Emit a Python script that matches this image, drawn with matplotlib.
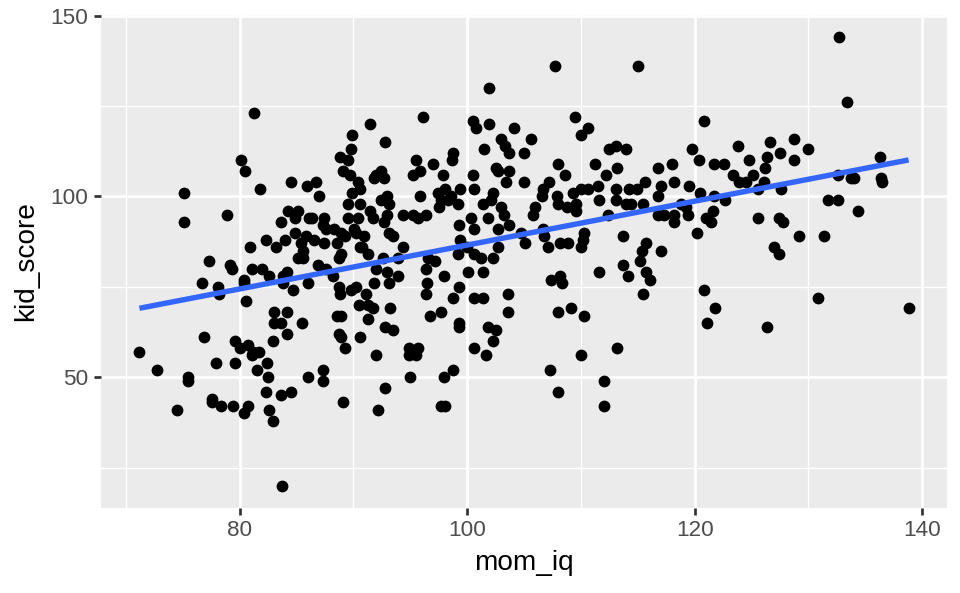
import numpy as np
import matplotlib
matplotlib.use("Agg")
import matplotlib.pyplot as plt


# Dados (mom_iq, kid_score)

mom_iq = [
    71.2, 72.7, 74.5, 75.1, 75.1, 75.5, 75.5, 76.7, 76.9, 77.3, 77.6, 77.6, 77.9, 78.1, 78.2, 78.4,
    78.9, 79.2, 79.3, 79.4, 79.6, 79.6, 80.1, 80.5, 80.4, 80.4, 80.4, 80.7, 80.0, 80.7, 81.2, 81.7,
    81.1, 80.6, 80.9, 81.1, 81.5, 81.3, 81.8, 82.0, 82.3, 82.6, 82.4, 82.5, 82.3, 82.6, 82.9, 82.9,
    83.0, 83.2, 83.0, 83.6, 83.6, 83.6, 83.7, 83.8, 83.8, 84.0, 84.2, 84.2, 84.2, 84.3, 84.5, 84.5,
    84.7, 84.9, 84.9, 85.1, 85.4, 85.6, 85.1, 85.6, 85.5, 85.9, 86.0, 86.0, 86.1,
    96.1, 91.5, 89.9, 92.8, 89.8, 88.8, 89.5, 89.1, 89.7, 86.7, 87.0, 90.4, 90.6, 89.9, 92.0, 92.4,
    92.7, 91.8, 92.4, 93.0, 93.1, 89.5, 90.6, 91.5, 91.7, 93.0, 86.4, 87.4, 87.3, 87.6, 88.3, 88.9,
    89.5, 90.4, 90.1, 89.3, 90.2, 90.9, 90.6, 85.8, 86.5, 87.4, 88.6, 88.9, 88.7, 91.3, 90.8, 92.7,
    93.1, 93.5, 94.4, 95.2, 95.7, 96.4, 94.4, 92.6, 93.9, 92.0, 93.0, 93.9, 86.9, 87.6, 96.4, 97.2,
    96.6, 98.0, 100.1, 101.4, 95.5, 95.2, 95.9, 97.0, 97.9, 95.9, 97.4, 98.1, 97.7, 98.3, 97.5, 98.6,
    99.2, 99.4, 98.8, 98.7, 100.5, 100.8, 101.9, 101.5, 103.0, 103.3, 100.5, 102.5, 102.7, 103.4, 103.7, 100.6,
    102.3, 101.4, 102.1, 103.0, 101.8, 103.2, 102.7, 103.7, 99.3, 100.3, 100.6, 99.4, 100.0, 99.2, 100.6, 101.2,
    102.3, 102.7, 101.9,
    88.2, 88.7, 88.8, 89.8, 90.2, 91.1, 91.8, 93.1, 90.5, 91.3, 91.7, 93.2, 91.3, 88.6, 88.9, 88.7,
    88.9, 89.3, 90.6, 92.8, 93.5, 92.0, 94.9, 95.7, 94.9, 95.5, 87.3, 87.3, 95.0, 92.8, 89.1, 92.2,
    97.7, 98.1, 98.0, 98.8, 96.5, 96.4, 99.3, 98.8, 96.7, 97.7, 99.3, 99.3, 100.6, 101.4, 101.8, 102.5,
    102.3, 100.6, 101.7, 103.6, 103.6,
    107.7, 115.0, 109.5, 110.6, 110.0, 120.8, 104.1, 105.6, 103.7, 105.0, 108.0, 108.6, 105.0, 112.5, 113.1, 114.0,
    111.2, 113.2, 112.2, 107.2, 106.7, 106.6, 105.8, 106.0, 107.9, 108.0, 109.3, 110.0, 110.6, 111.5, 111.6, 108.8,
    109.6, 109.6, 113.1, 113.1, 114.2, 114.9, 115.6, 114.0, 114.4, 115.5, 116.8, 118.0, 118.2, 117.0, 116.8, 119.5,
    119.8, 120.4, 121.7, 120.5, 121.7, 121.6, 121.0, 118.8, 119.2, 117.3, 116.8, 118.2, 119.4,
    104.7, 105.1, 106.7, 106.8, 107.1, 108.2, 108.9, 110.3, 110.2, 110.0, 112.4, 113.7, 115.7, 115.4, 117.0, 115.2,
    115.7, 116.1, 113.7, 114.1, 111.6, 107.4, 108.2, 108.3, 108.0, 109.1, 110.3, 115.5, 118.2, 120.2, 120.8, 121.8,
    121.1, 113.2, 110.0, 107.3, 108.0, 112.0, 112.0,
    132.7, 133.4, 123.8, 126.6, 128.7, 127.5, 130.0, 124.8, 126.4, 126.2, 128.7, 122.6, 123.4, 125.1, 123.9, 124.5,
    126.1, 125.6, 127.6, 122.7, 132.6, 133.7, 134.0, 136.3, 136.4, 136.5, 131.7, 132.6,
    121.4, 125.6, 127.4, 127.8, 134.4, 129.2, 131.4, 127.0, 127.4, 130.8, 138.8, 126.4,
]

kid_score = [
    57, 52, 41, 101, 93, 50, 49, 76, 61, 82, 44, 43, 54, 75, 73, 42,
    95, 81, 80, 42, 60, 54, 110, 107, 77, 76, 40, 42, 58, 59, 57, 57,
    56, 71, 86, 80, 52, 123, 102, 80, 88, 78, 54, 50, 46, 41, 38, 60,
    68, 86, 65, 65, 45, 93, 20, 78, 76, 88, 79, 68, 62, 96, 104, 46,
    74, 94, 90, 96, 87, 85, 83, 83, 65, 103, 76, 50, 94,
    122, 120, 117, 115, 113, 111, 110, 107, 106, 104, 100, 104, 102, 101, 106, 107,
    105, 105, 99, 100, 98, 98, 98, 96, 94, 95, 94, 94, 92, 91, 91, 90,
    94, 94, 91, 89, 90, 89, 86, 89, 88, 87, 87, 84, 83, 84, 86, 93,
    90, 89, 95, 95, 94, 95, 86, 83, 83, 80, 79, 78, 81, 80, 80, 82,
    83, 78, 79, 79, 110, 106, 107, 109, 106, 100, 101, 102, 99, 99, 97, 100,
    98, 102, 112, 110, 121, 119, 120, 113, 116, 114, 106, 108, 107, 104, 107, 102,
    101, 98, 99, 97, 94, 95, 91, 92, 92, 94, 91, 88, 86, 84, 84, 83,
    83, 86, 130,
    78, 75, 73, 74, 75, 73, 76, 76, 70, 70, 69, 69, 66, 67, 67, 62,
    61, 58, 61, 64, 63, 56, 58, 58, 56, 56, 52, 49, 50, 47, 43, 41,
    42, 42, 50, 52, 76, 73, 75, 72, 67, 68, 65, 64, 72, 72, 64, 63,
    60, 58, 56, 73, 68,
    136, 136, 122, 119, 117, 121, 119, 116, 112, 112, 109, 106, 104, 113, 114, 113,
    109, 108, 106, 104, 102, 100, 95, 97, 100, 98, 101, 102, 102, 103, 99, 97,
    98, 96, 102, 99, 102, 102, 104, 98, 98, 98, 108, 109, 104, 103, 100, 103,
    113, 110, 109, 101, 100, 96, 94, 98, 97, 95, 95, 95, 95,
    90, 87, 91, 89, 86, 87, 87, 90, 88, 86, 95, 89, 87, 85, 85, 82,
    79, 77, 81, 78, 79, 77, 78, 76, 68, 69, 67, 73, 93, 90, 74, 69,
    65, 58, 56, 52, 46, 49, 42,
    144, 126, 114, 115, 116, 112, 113, 110, 111, 108, 110, 109, 106, 106, 104, 104,
    104, 102, 102, 99, 106, 105, 105, 111, 105, 104, 99, 99,
    93, 94, 94, 93, 96, 89, 89, 86, 84, 72, 69, 64,
]

x = np.array(mom_iq)
y = np.array(kid_score)

# Reta de regressao linear (como geom_smooth(method = "lm"))
coef = np.polyfit(x, y, 1)
x_line = np.linspace(x.min(), x.max(), 80)
y_line = np.polyval(coef, x_line)

# Grafico
plt.rcParams['font.family'] = ['Liberation Sans', 'DejaVu Sans']

fig = plt.figure(figsize=(9.6, 5.93), dpi=100)
ax = fig.add_axes([101 / 960, 85 / 593, 846 / 960, 493 / 593])
ax.set_facecolor('#EBEBEB')

ax.scatter(x, y, s=72, color='black', linewidths=0, zorder=3)
ax.plot(x_line, y_line, color='#3366FF', linewidth=3.9, zorder=4, solid_capstyle='butt')

# expansao de 5% como no ggplot
rx = x.max() - x.min()
ry = y.max() - y.min()
ax.set_xlim(x.min() - 0.05 * rx, x.max() + 0.05 * rx)
ax.set_ylim(y.min() - 0.05 * ry, y.max() + 0.05 * ry)

ax.set_xticks([80, 100, 120, 140])
ax.set_xticks([70, 90, 110, 130], minor=True)
ax.set_yticks([50, 100, 150])
ax.set_yticks([25, 75, 125], minor=True)

ax.grid(which='major', color='white', linewidth=1.95)
ax.grid(which='minor', color='white', linewidth=0.97)
ax.set_axisbelow(True)

for s in ax.spines.values():
    s.set_visible(False)

ax.tick_params(which='major', length=5, width=1.95, color='#333333',
               labelcolor='#4D4D4D', labelsize=16.2, pad=4)
ax.tick_params(which='minor', length=0)

ax.set_xlabel('mom_iq', fontsize=20.2, color='black', labelpad=6)
ax.set_ylabel('kid_score', fontsize=20.2, color='black', labelpad=8)

fig.savefig('out.png', dpi=100)
